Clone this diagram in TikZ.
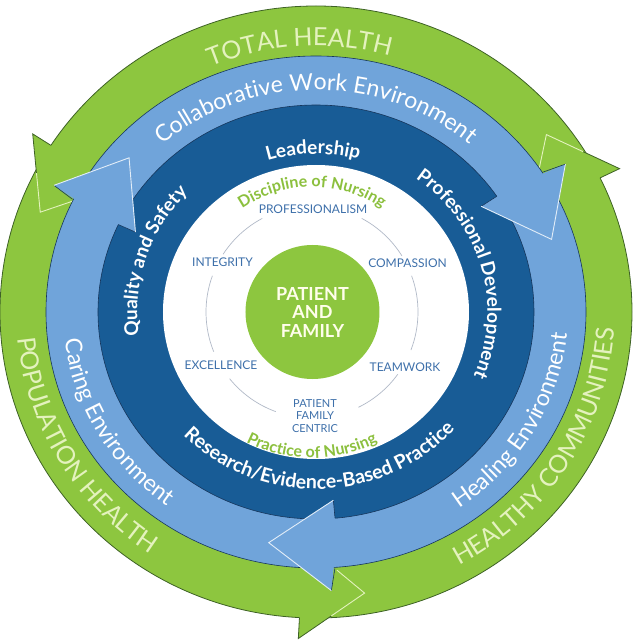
\documentclass[tikz,border=0pt]{standalone}
\usepackage{fontspec}
\setmainfont{Lato}
\usetikzlibrary{calc,decorations.text}
\definecolor{ringgreen}{RGB}{141,198,63}
\definecolor{ringgreendark}{RGB}{62,98,38}
\definecolor{ringgreenpale}{RGB}{228,242,190}
\definecolor{lightblue}{RGB}{112,164,218}
\definecolor{darkblue}{RGB}{24,92,150}
\definecolor{navyline}{RGB}{22,54,92}
\definecolor{valueblue}{RGB}{62,112,170}
\definecolor{nursegreen}{RGB}{140,192,62}
\definecolor{arcgray}{RGB}{178,186,200}
% text set along an elliptic arc: x radius, y radius, from, to, format, text
\newcommand{\ringlabel}[6]{%
  \path[decorate, decoration={text along path, text align=center, text={|#5|#6}}]
    ({#1*cos(#3)},{#2*sin(#3)}) arc[start angle=#3, end angle=#4, x radius=#1, y radius=#2];}

\begin{document}
\begin{tikzpicture}[x=1pt, y=1pt,
    outerring/.style={fill=ringgreen, draw=ringgreendark, line width=0.8pt},
    midring/.style={fill=lightblue, draw=navyline, line width=0.6pt},
    innerring/.style={fill=darkblue, draw=navyline, line width=0.6pt},
    palefront/.style={ringgreenpale, line width=0.9pt},
    bluefront/.style={white!80!lightblue, line width=0.9pt},
    value/.style={font=\fontsize{12}{13}\selectfont, text=valueblue},
    valuearc/.style={arcgray, line width=0.7pt},
    patient/.style={circle, fill=ringgreen, minimum size=134pt, inner sep=0pt, align=center,
      text=white!92!yellow, font=\bfseries\fontsize{18}{18.5}\selectfont}]

\useasboundingbox (-316,-328) rectangle (324,312);

% Outer green ring and its heads
\filldraw[outerring] (0,0) ellipse[x radius=316, y radius=306];
\foreach \a in {26,147,267} {
  \coordinate (gback) at ({1.033*300*cos(\a)},{300*sin(\a)});
  \coordinate (gedge) at ({1.033*306*cos(\a)},{306*sin(\a)});
  \coordinate (gouter) at ({1.033*327*cos(\a)},{327*sin(\a)});
  \coordinate (gtip) at ({1.033*285*cos(\a+12.5)},{285*sin(\a+12.5)});
  \coordinate (ginner) at ({1.033*259*cos(\a+7.5)},{259*sin(\a+7.5)});
  \fill[ringgreen] (gback) -- (gouter) -- (gtip) -- (ginner) -- cycle;
  \draw[ringgreendark, line width=0.8pt] (gedge) -- (gouter) -- ($(gouter)!0.5!(gtip)$);
  \draw[palefront] ($(gouter)!0.5!(gtip)$) -- (gtip) -- (ginner);
}

% Light blue and dark blue rings
\filldraw[midring] (0,0) ellipse[x radius=270, y radius=256];
\filldraw[innerring] (0,0) ellipse[x radius=218, y radius=207];
\foreach \a in {32,153,273} {
  \coordinate (bedge) at ({1.054*257*cos(\a+1)},{257*sin(\a+1)});
  \coordinate (bback) at ({1.054*250*cos(\a+1)},{250*sin(\a+1)});
  \coordinate (bouter) at ({1.054*279*cos(\a)},{279*sin(\a)});
  \coordinate (btip) at ({1.054*235*cos(\a-14)},{235*sin(\a-14)});
  \coordinate (binner) at ({1.054*189*cos(\a+2)},{189*sin(\a+2)});
  \coordinate (bin) at ({1.054*214*cos(\a+2)},{214*sin(\a+2)});
  \coordinate (bedgein) at ({1.054*207*cos(\a+2)},{207*sin(\a+2)});
  \fill[lightblue] (bback) -- (bouter) -- (btip) -- (binner) -- (bin) -- cycle;
  \draw[navyline, line width=0.6pt] (bedge) -- (bouter);
  \draw[navyline, line width=0.6pt] (binner) -- (bedgein);
  \draw[bluefront] (bouter) -- (btip) -- (binner);
}

% White core
\fill[white] (0,0) ellipse[x radius=153, y radius=147];

% Ring texts
\ringlabel{274.8}{266}{143.5}{43.5}{\fontsize{25}{25}\selectfont\color{ringgreenpale}}{TOTAL HEALTH}
\ringlabel{299.6}{290}{160}{261}{\fontsize{25}{25}\selectfont\color{ringgreenpale}}{POPULATION HEALTH}
\ringlabel{298.5}{289}{278}{378}{\fontsize{25}{25}\selectfont\color{ringgreenpale}}{HEALTHY COMMUNITIES}

\ringlabel{234}{222}{140}{40}{\fontsize{23}{23}\selectfont\color{white}}{Collaborative Work Environment}
\ringlabel{253}{240}{170}{250}{\fontsize{23}{23}\selectfont\color{white}}{Caring Environment}
\ringlabel{252}{239}{290}{370}{\fontsize{23}{23}\selectfont\color{white}}{Healing Environment}

\ringlabel{165}{158}{131}{51}{\bfseries\fontsize{19}{19}\selectfont\color{white}}{Leadership}
\ringlabel{171.4}{164}{70}{-39}{\bfseries\fontsize{19}{19}\selectfont\color{white}}{Professional Development}
\ringlabel{178.7}{171}{200}{124}{\bfseries\fontsize{19}{19}\selectfont\color{white}}{Quality and Safety}
\ringlabel{185}{177}{206}{337}{\bfseries\fontsize{19.5}{19.5}\selectfont\color{white}}{Research/Evidence-Based Practice}

% Core: nursing arcs, values and patient
\begin{scope}[shift={(-4,0)}]
\ringlabel{125}{125}{155}{25}{\bfseries\fontsize{16}{16}\selectfont\color{nursegreen}}{Discipline of Nursing}
\ringlabel{146}{146}{215}{325}{\bfseries\fontsize{16}{16}\selectfont\color{nursegreen}}{Practice of Nursing}
\foreach \s/\e in {118/147, 32/62, -21/20, -64/-36, 219/250, 160/202}
  \draw[valuearc] ({106*cos(\s)},{106*sin(\s)}) arc[start angle=\s, end angle=\e, radius=106];
\end{scope}

\node[value] (prof) at (-3,103) {PROFESSIONALISM};
\node[value] (integ) at (-93.5,50) {INTEGRITY};
\node[value] (comp) at (91.5,49) {COMPASSION};
\node[value] (excel) at (-95,-53) {EXCELLENCE};
\node[value] (team) at (89,-55) {TEAMWORK};
\node[value, align=center, font=\fontsize{11}{12.5}\selectfont] (centric) at (-1,-104) {PATIENT\\FAMILY\\CENTRIC};

\node[patient] (pf) at (-3.5,0) {PATIENT\\AND\\FAMILY};

\end{tikzpicture}
\end{document}
